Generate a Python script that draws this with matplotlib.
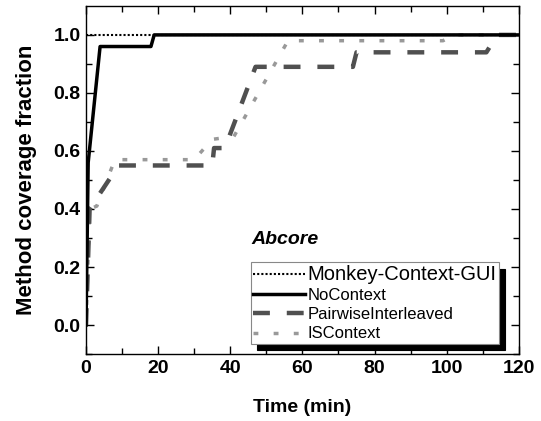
import matplotlib
matplotlib.use("Agg")
import matplotlib.pyplot as plt

plt.rcParams['font.family'] = ['Liberation Sans', 'DejaVu Sans']

# coverage over time (minutes) for each tool on Abcore
monkey_t = [0, 120]
monkey_cov = [1.0, 1.0]

nocontext_t = [0, 0.6, 3.9, 18.0, 18.9, 120]
nocontext_cov = [0.0, 0.56, 0.96, 0.96, 1.0, 1.0]

pairwise_t = [0, 1.0, 9.0, 35.0, 35.5, 38.5, 47.0, 74.0, 75.0, 111.0, 114.0, 120]
pairwise_cov = [0.0, 0.40, 0.55, 0.55, 0.61, 0.61, 0.89, 0.89, 0.94, 0.94, 1.0, 1.0]

iscontext_t = [0, 1.0, 3.0, 8.0, 30.0, 35.0, 41.0, 56.0, 99.0, 102.0, 120]
iscontext_cov = [0.0, 0.40, 0.41, 0.57, 0.57, 0.64, 0.65, 0.98, 0.98, 1.0, 1.0]

fig = plt.figure(figsize=(5.41, 4.21), dpi=100)
ax = fig.add_axes([0.159, 0.159, 0.8, 0.827])

ax.plot(monkey_t, monkey_cov, color='black', lw=1.5, linestyle=(0, (1, 1)),
        label='Monkey-Context-GUI', zorder=5)
ax.plot(nocontext_t, nocontext_cov, color='black', lw=2.5, label='NoContext', zorder=4)
ax.plot(pairwise_t, pairwise_cov, color='#505050', lw=3.2, linestyle=(0, (3.8, 3.8)),
        label='PairwiseInterleaved', zorder=3)
ax.plot(iscontext_t, iscontext_cov, color='#999999', lw=2.5, linestyle=(0, (1.4, 4.4)),
        label='ISContext', zorder=2)

ax.set_xlim(0, 120)
ax.set_ylim(-0.1, 1.1)
ax.set_xticks(range(0, 121, 20))
ax.set_xticks(range(10, 120, 20), minor=True)
ax.set_yticks([0.0, 0.2, 0.4, 0.6, 0.8, 1.0])
ax.set_yticks([-0.1, 0.1, 0.3, 0.5, 0.7, 0.9], minor=True)
ax.set_yticklabels(['0.0', '0.2', '0.4', '0.6', '0.8', '1.0'])
ax.tick_params(which='both', direction='in', top=True, right=True, width=1)
ax.tick_params(which='major', length=6, labelsize=14, pad=4)
ax.tick_params(which='minor', length=4)
for lab in ax.get_xticklabels() + ax.get_yticklabels():
    lab.set_fontweight('bold')
for sp in ax.spines.values():
    sp.set_linewidth(1.0)

ax.set_xlabel('Time (min)', fontsize=14, fontweight='bold', labelpad=16)
ax.set_ylabel('Method coverage fraction', fontsize=16, fontweight='bold', labelpad=12)

leg = ax.legend(loc='lower left', bbox_to_anchor=(0.381, 0.029), frameon=True,
                fancybox=False, edgecolor='#888888', framealpha=1,
                shadow={'color': 'black', 'alpha': 1, 'ox': 4.5, 'oy': -4.5},
                handlelength=3.1, handletextpad=0.15, borderpad=0.15,
                labelspacing=0.25, borderaxespad=0, fontsize=12)
leg.get_frame().set_linewidth(0.8)
leg.get_texts()[0].set_fontsize(14.5)

ax.text(0.383, 0.305, 'Abcore', transform=ax.transAxes, fontsize=14,
        fontweight='bold', fontstyle='italic', ha='left', va='bottom')

fig.savefig('out.png', dpi=100)
